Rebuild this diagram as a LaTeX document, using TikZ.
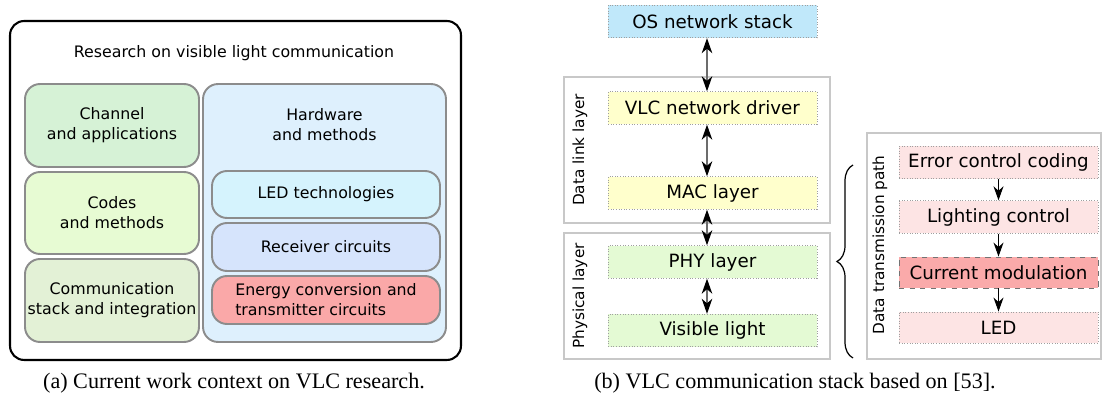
\documentclass[tikz,border=0pt]{standalone}
\usepackage{fontspec}
\setmainfont{DejaVu Sans}
\newfontfamily\capfont{Liberation Serif}
\usepackage{tikz}
\usetikzlibrary{arrows.meta,positioning,decorations.pathreplacing}
\definecolor{rimgray}{RGB}{140,140,140}
\definecolor{framegray}{RGB}{200,200,200}
\definecolor{chanfill}{RGB}{214,242,214}
\definecolor{codefill}{RGB}{231,251,211}
\definecolor{commfill}{RGB}{227,241,214}
\definecolor{hwfill}{RGB}{222,240,253}
\definecolor{ledfill}{RGB}{213,243,253}
\definecolor{rxfill}{RGB}{214,228,252}
\definecolor{txfill}{RGB}{250,168,168}
\definecolor{osfill}{RGB}{192,232,250}
\definecolor{dlfill}{RGB}{255,255,204}
\definecolor{phyfill}{RGB}{228,250,212}
\definecolor{pathfill}{RGB}{253,228,228}
\definecolor{modfill}{RGB}{250,170,170}
\newcommand\ctxfont{\fontsize{9.0}{11.4}\selectfont}
\newcommand\stackfont{\fontsize{10.4}{12.5}\selectfont}
\newcommand\sidefont{\fontsize{8.7}{10.5}\selectfont}
\tikzset{
  cbox/.style={draw=rimgray, line width=1.1pt, rounded corners=0.3cm, align=center,
    font=\ctxfont, inner sep=0pt},
  sbox/.style={draw=gray!75, densely dotted, line width=0.5pt, minimum width=4.18cm,
    minimum height=0.65cm, inner sep=0pt, font=\stackfont},
  pbox/.style={sbox, minimum width=3.98cm},
  lframe/.style={draw=framegray, line width=0.9pt},
  lylab/.style={rotate=90, font=\sidefont},
  barr/.style={{Stealth[length=3mm, width=2.1mm, inset=0.9mm, color=black]}-{Stealth[length=3mm, width=2.1mm, inset=0.9mm, color=black]},
    gray!85!black, line width=0.7pt},
  darr/.style={-{Stealth[length=2.8mm, width=2mm, inset=0.9mm]}, black, line width=0.6pt},
  brc/.style={decorate, decoration={brace, amplitude=0.32cm}, line width=0.7pt},
  capt/.style={font=\capfont\fontsize{12.6}{15}\selectfont},
}

\begin{document}
\begin{tikzpicture}[x=0.02cm, y=-0.02cm]
 \useasboundingbox (0,0) rectangle (1103,398);
 % research context
 \node[draw, line width=1.2pt, rounded corners=0.28cm, minimum width=9.02cm, minimum height=6.78cm] (ctx) at (235.5,190.5) {};
 \node[font=\ctxfont] (ctxtitle) at (234,53) {Research on visible light communication};
 \node[cbox, fill=chanfill, minimum width=3.48cm, minimum height=1.66cm] (chan) at (112,125.5) {Channel\\and applications};
 \node[cbox, fill=codefill, minimum width=3.48cm, minimum height=1.64cm] (codes) at (112,213) {Codes\\and methods};
 \node[cbox, fill=commfill, minimum width=3.48cm, minimum height=1.66cm] (comm) at (112,300.5) {Communication\\stack and integration};
 \node[cbox, fill=hwfill, minimum width=4.86cm, minimum height=5.16cm] (hw) at (324.5,213) {};
 \node[font=\ctxfont, align=center] (hwlab) at ([yshift=-0.84cm]hw.north) {Hardware\\and methods};
 \node[cbox, fill=ledfill, minimum width=4.56cm, minimum height=0.94cm] (ledtech) at (326,194.5) {LED technologies};
 \node[cbox, fill=rxfill, minimum width=4.56cm, minimum height=0.96cm] (rx) at (326,247) {Receiver circuits};
 \node[cbox, fill=txfill, minimum width=4.56cm, minimum height=0.96cm, align=left] (tx) at (326,300) {Energy conversion and\\transmitter circuits};
 \node[capt] (capa) at (234,383) {(a) Current work context on VLC research.};

 % communication stack
 \node[lframe, minimum width=5.32cm, minimum height=2.92cm] (dlframe) at (697,150) {};
 \node[lframe, minimum width=5.32cm, minimum height=2.52cm] (phyframe) at (697,296) {};
 \node[lylab] (dllab) at (580,150) {Data link layer};
 \node[lylab] (phylab) at (580,296) {Physical layer};
 \node[sbox, fill=osfill] (os) at (712.5,21.5) {OS network stack};
 \node[sbox, fill=dlfill] (drv) at (712.5,108) {VLC network driver};
 \node[sbox, fill=dlfill] (mac) at (712.5,193) {MAC layer};
 \node[sbox, fill=phyfill] (phy) at (712.5,262) {PHY layer};
 \node[sbox, fill=phyfill] (vis) at (712.5,330.5) {Visible light};
 \foreach \a/\b in {os/drv, drv/mac, mac/phy, phy/vis}
   \draw[barr] ([xshift=-0.11cm]\a.south) -- ([xshift=-0.11cm]\b.north);

 % transmission path
 \coordinate (brlo) at (853,358);
 \coordinate (brhi) at (853,165);
 \draw[brc] (brlo) -- (brhi);
 \node[lframe, minimum width=4.68cm, minimum height=4.52cm] (dtframe) at (984,246) {};
 \node[lylab] (dtlab) at (880,245) {Data transmission path};
 \node[pbox, fill=pathfill] (ecc) at (998.5,162.5) {Error control coding};
 \node[pbox, fill=pathfill] (lic) at (998.5,217) {Lighting control};
 \node[pbox, fill=modfill, draw=gray!90!black, dashed, minimum height=0.62cm] (cmod) at (998.5,272.5) {Current modulation};
 \node[pbox, fill=pathfill, minimum height=0.62cm] (led) at (998.5,327.5) {LED};
 \foreach \a/\b in {ecc/lic, lic/cmod, cmod/led}
   \draw[darr] (\a) -- (\b);
 \node[capt] (capb) at (795,383) {(b) VLC communication stack based on [53].};
\end{tikzpicture}
\end{document}
